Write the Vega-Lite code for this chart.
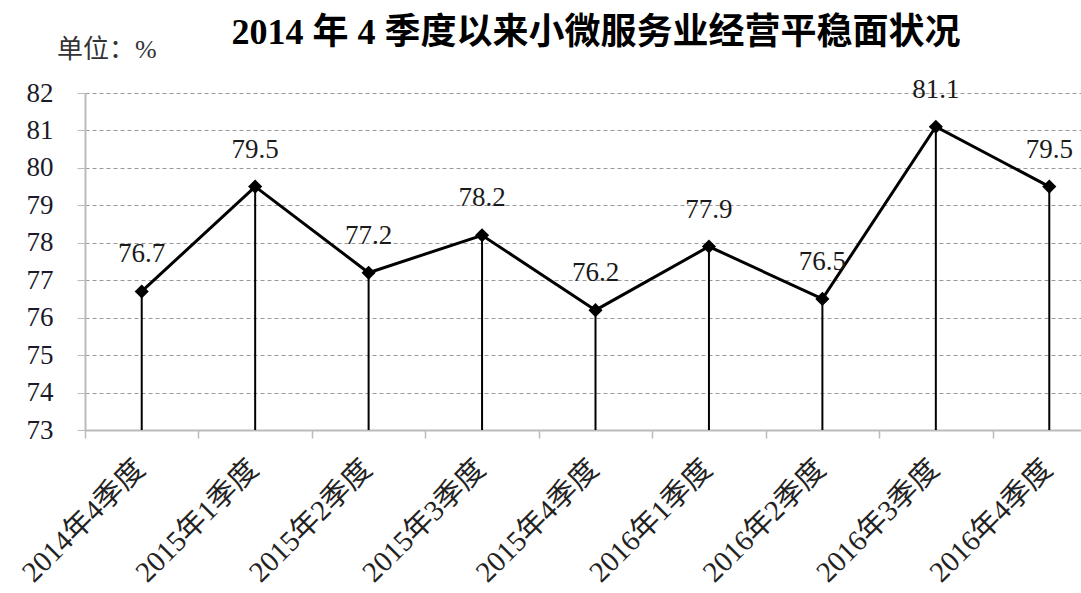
{
  "$schema": "https://vega.github.io/schema/vega-lite/v6.json",
  "width": 996,
  "height": 337,
  "autosize": "none",
  "padding": {"left": 85, "top": 93, "right": 0, "bottom": 163},
  "background": "white",
  "config": {"view": {"stroke": null}},
  "data": {
    "values": [
      {"q": "2014年4季度", "v": 76.7},
      {"q": "2015年1季度", "v": 79.5},
      {"q": "2015年2季度", "v": 77.2},
      {"q": "2015年3季度", "v": 78.2},
      {"q": "2015年4季度", "v": 76.2},
      {"q": "2016年1季度", "v": 77.9},
      {"q": "2016年2季度", "v": 76.5},
      {"q": "2016年3季度", "v": 81.1},
      {"q": "2016年4季度", "v": 79.5}
    ]
  },
  "encoding": {
    "x": {
      "field": "q",
      "type": "nominal",
      "sort": null,
      "scale": {"type": "band", "range": [0, 1021], "paddingInner": 0, "paddingOuter": 0},
      "axis": {
        "title": null,
        "labelAngle": -45,
        "labelAlign": "right",
        "labelBaseline": "middle",
        "labelFont": "'Liberation Serif', 'Noto Sans CJK SC', serif",
        "labelFontSize": 29,
        "labelColor": "#222222",
        "labelPadding": 26,
        "labelOffset": -2,
        "tickBand": "extent",
        "tickColor": "#bbbbbb",
        "tickSize": 8,
        "tickWidth": 1.5,
        "domainColor": "#bbbbbb",
        "domainWidth": 2,
        "grid": false,
        "labelOverlap": false
      }
    },
    "y": {
      "field": "v",
      "type": "quantitative",
      "scale": {"domain": [73, 82], "nice": false, "zero": false},
      "axis": {
        "title": null,
        "values": [73, 74, 75, 76, 77, 78, 79, 80, 81, 82],
        "labelOverlap": false,
        "labelFont": "'Liberation Serif', serif",
        "labelFontSize": 27,
        "labelColor": "#1a1a2a",
        "labelPadding": 24,
        "tickColor": "#bbbbbb",
        "tickSize": 8,
        "domainColor": "#bbbbbb",
        "domainWidth": 2,
        "grid": true,
        "gridColor": "#999999",
        "gridDash": [4, 3],
        "gridWidth": 1
      }
    }
  },
  "layer": [
    {
      "mark": {"type": "text", "text": "单位：%", "font": "'Liberation Serif', 'Noto Sans CJK SC', serif", "fontSize": 26, "color": "#333333", "align": "left", "baseline": "middle", "x": -28, "y": -43},
      "encoding": {"x": null, "y": null},
      "data": {"values": [{}]}
    },
    {
      "mark": {"type": "text", "text": "2014 年 4 季度以来小微服务业经营平稳面状况", "font": "'Liberation Serif', 'Noto Sans CJK SC', serif", "fontSize": 36, "fontWeight": "bold", "color": "#000000", "align": "center", "baseline": "middle", "x": 511, "y": -60},
      "encoding": {"x": null, "y": null},
      "data": {"values": [{}]}
    },
    {
      "mark": {"type": "rule", "color": "#000000", "strokeWidth": 2},
      "encoding": {"y2": {"datum": 73}}
    },
    {
      "mark": {"type": "line", "color": "#000000", "strokeWidth": 3},
      "encoding": {}
    },
    {
      "mark": {"type": "point", "shape": "diamond", "filled": true, "color": "#000000", "size": 200, "opacity": 1},
      "encoding": {}
    },
    {
      "mark": {"type": "text", "font": "'Liberation Serif', serif", "fontSize": 27, "color": "#1a1a1a", "dy": -37, "baseline": "middle"},
      "encoding": {
        "text": {"field": "v", "type": "quantitative", "format": ".1f"}
      }
    }
  ]
}
